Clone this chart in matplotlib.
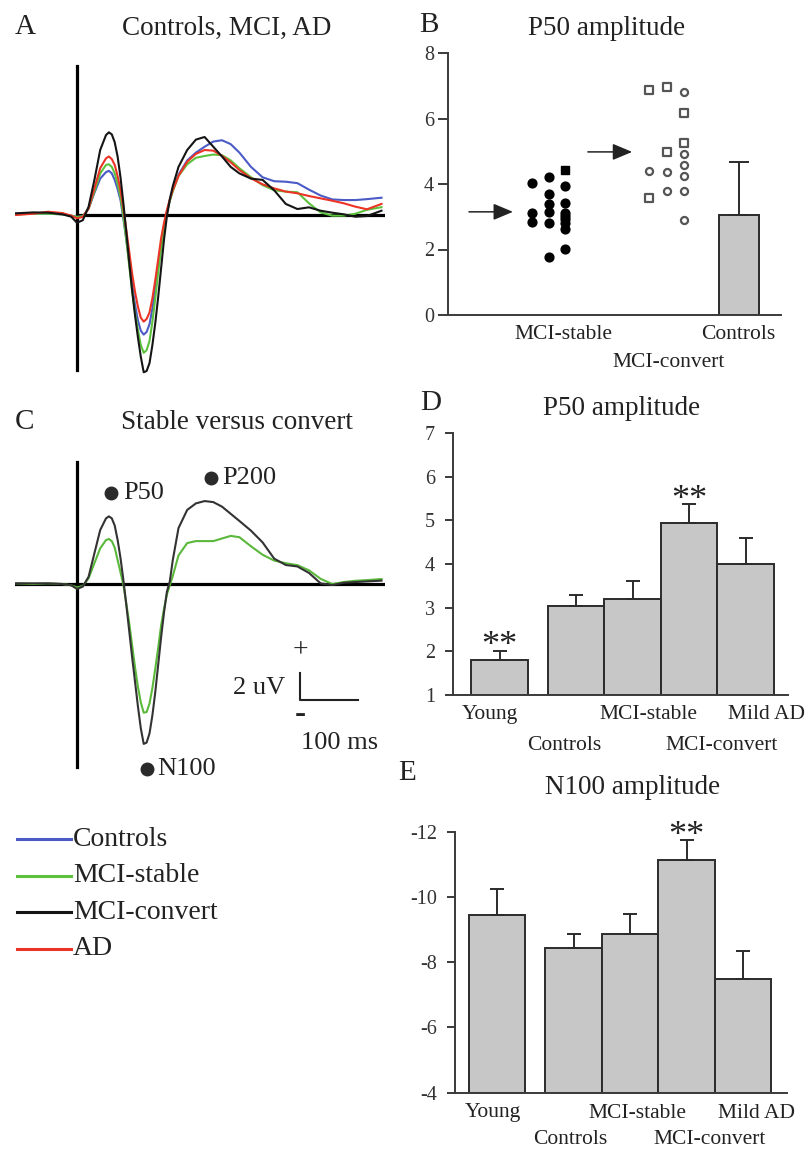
#!/usr/bin/env python3
"""Auditory evoked potentials: grand averages and P50 / N100 amplitudes by group."""

import matplotlib.pyplot as plt

W, H = 809, 1151

plt.rcParams["font.family"] = ["Liberation Serif", "DejaVu Serif"]
plt.rcParams["axes.unicode_minus"] = False

# ---- waveforms (time in ms, amplitude in uV) ----
TIME_MS = [-105, -75, -50, -25, -10, 0, 10, 20, 30, 40, 50, 55, 60, 65, 70, 75,
           80, 85, 90, 95, 100, 105, 110, 115, 120, 125, 130, 135, 140, 145, 150,
           155, 160, 165, 175, 190, 205, 220, 235, 250, 265, 280, 300, 320, 340,
           360, 380, 400, 420, 440, 460, 480, 500, 525]

A_CONTROLS = [0.1, 0.1, 0.1, 0.05, -0.05, -0.15, -0.1, 0.5, 1.7, 2.8, 3.3, 3.4, 3.2,
              2.7, 2.0, 1.15, -0.3, -1.9, -3.6, -5.3, -6.9, -8.1, -8.9, -9.2, -9.0,
              -8.4, -7.2, -5.7, -3.9, -2.3, -0.9, 0.2, 1.1, 1.9, 3.1, 4.2, 4.8, 5.25,
              5.65, 5.75, 5.45, 4.8, 3.7, 2.9, 2.6, 2.56, 2.45, 1.95, 1.5, 1.2, 1.15,
              1.15, 1.22, 1.33]
A_MCI_STABLE = [0.05, 0.1, 0.1, 0.05, -0.05, -0.15, -0.1, 0.5, 1.8, 3.2, 3.85, 3.9,
                3.7, 3.2, 2.4, 1.4, -0.1, -1.9, -3.9, -5.8, -7.5, -8.85, -10.0, -10.6,
                -10.4, -9.7, -8.2, -6.4, -4.4, -2.6, -1.0, 0.2, 1.1, 1.8, 3.0, 3.9,
                4.4, 4.54, 4.65, 4.6, 4.2, 3.6, 2.9, 2.3, 1.9, 1.8, 1.75, 0.9, 0.2,
                -0.05, -0.05, 0.1, 0.4, 0.6]
A_MCI_CONVERT = [0.13, 0.2, 0.18, 0.05, -0.13, -0.6, -0.4, 0.64, 2.7, 5.0, 6.15, 6.36,
                 6.2, 5.6, 4.5, 2.9, 0.9, -1.3, -3.6, -5.8, -7.7, -9.4, -10.9, -12.1,
                 -12.0, -11.4, -10.0, -8.3, -6.3, -4.1, -1.9, -0.1, 1.2, 2.2, 3.7,
                 5.0, 5.8, 6.0, 5.25, 4.5, 3.7, 3.2, 2.8, 2.7, 1.9, 0.85, 0.46, 0.59,
                 0.33, 0.18, 0.05, -0.13, -0.08, 0.33]
A_AD = [0.0, 0.1, 0.25, 0.15, -0.05, -0.25, -0.15, 0.5, 2.05, 3.6, 4.36, 4.5, 4.3,
        3.85, 3.0, 1.9, 0.5, -1.15, -2.8, -4.5, -5.9, -7.05, -7.9, -8.2, -8.0, -7.5,
        -6.4, -5.0, -3.4, -1.8, -0.6, 0.4, 1.2, 1.9, 3.0, 4.1, 4.7, 5.0, 4.95, 4.55,
        4.05, 3.46, 2.82, 2.36, 2.05, 1.8, 1.67, 1.46, 1.28, 1.1, 0.9, 0.64, 0.44,
        0.85]

C_MCI_STABLE = [0.05, 0.0, 0.05, 0.0, -0.1, -0.26, -0.15, 0.44, 1.6, 2.74, 3.38, 3.46,
                3.3, 2.8, 1.85, 0.9, -0.08, -1.5, -3.0, -4.7, -6.4, -7.9, -9.1, -9.9,
                -9.85, -9.2, -8.0, -6.5, -4.9, -3.2, -1.9, -0.8, -0.1, 0.6, 2.2, 3.15,
                3.3, 3.3, 3.3, 3.5, 3.7, 3.6, 2.9, 2.25, 1.8, 1.6, 1.45, 1.05, 0.4,
                0.0, 0.15, 0.25, 0.3, 0.38]
C_MCI_CONVERT = [0.05, 0.05, 0.05, 0.0, -0.1, -0.38, -0.2, 0.56, 2.36, 4.15, 5.05, 5.2,
                 5.05, 4.5, 3.4, 2.0, 0.3, -1.6, -3.6, -5.6, -7.5, -9.4, -11.1, -12.3,
                 -12.2, -11.5, -10.1, -8.3, -6.2, -4.1, -2.2, -0.6, 0.2, 1.8, 4.3, 5.7,
                 6.2, 6.38, 6.3, 5.95, 5.4, 4.85, 4.1, 3.2, 1.95, 1.46, 1.35, 0.85,
                 0.05, -0.08, 0.1, 0.15, 0.2, 0.26]

LEGEND_GROUPS = ["Controls", "MCI-stable", "MCI-convert", "AD"]
LEGEND_COLORS = ["#4b5bc6", "#5cc23e", "#151515", "#ec3426"]

# ---- panel B: individual P50 amplitudes (column index within the group) ----
STABLE_CIRCLE_COL = [0, 0, 0, 1, 1, 1, 1, 1, 1, 2, 2, 2, 2, 2, 2, 2, 2]
STABLE_CIRCLE_P50 = [4.04, 3.12, 2.85, 4.2, 3.69, 3.39, 3.16, 2.82, 1.78,
                     3.94, 3.41, 3.1, 3.02, 2.92, 2.82, 2.63, 2.02]
STABLE_SQUARE_COL = [2]
STABLE_SQUARE_P50 = [4.43]
CONVERT_CIRCLE_COL = [0, 1, 1, 2, 2, 2, 2, 2, 2]
CONVERT_CIRCLE_P50 = [4.41, 4.38, 3.8, 6.8, 4.92, 4.59, 4.25, 3.8, 2.9]
CONVERT_SQUARE_COL = [0, 0, 1, 1, 2, 2]
CONVERT_SQUARE_P50 = [6.88, 3.56, 6.95, 4.99, 6.17, 5.26]
STABLE_MEAN = 3.15
CONVERT_MEAN = 4.98
CONTROLS_P50 = 3.05
CONTROLS_P50_SD = 1.62

# ---- panels D and E: group means with error ----
BAR_GROUPS = ["Young", "Controls", "MCI-stable", "MCI-convert", "Mild AD"]
P50_MEAN = [1.8, 3.04, 3.2, 4.93, 4.0]
P50_ERR = [0.21, 0.26, 0.42, 0.44, 0.6]
P50_SIG = [True, False, False, True, False]
N100_MEAN = [-9.44, -8.44, -8.86, -11.12, -7.47]
N100_ERR = [0.8, 0.41, 0.61, 0.62, 0.88]
N100_SIG = [False, False, False, True, False]

GREY = "#c6c7c6"
EDGE = "#2b2b2b"
TITLE_SIZE = 19.5
LETTER_SIZE = 21
TICK_SIZE = 14.5
LABEL_SIZE = 15.5

# waveform scale: pixels per ms and per uV
MS_PX = 0.58
UV_PX = 13.0


def add_axes_px(fig, left, top, right, bottom):
    return fig.add_axes([left / W, 1 - bottom / H, (right - left) / W, (bottom - top) / H])


def wave_axes(fig, top, bottom, zero_y):
    ax = add_axes_px(fig, 15, top, 385, bottom)
    ax.set_xlim((15 - 77) / MS_PX, (385 - 77) / MS_PX)
    ax.set_ylim((zero_y - bottom) / UV_PX, (zero_y - top) / UV_PX)
    ax.axis("off")
    return ax


def style_bar_axes(ax, length=6, pad=7):
    for side in ("top", "right"):
        ax.spines[side].set_visible(False)
    for side in ("left", "bottom"):
        ax.spines[side].set_color("#3a3a3a")
        ax.spines[side].set_linewidth(1.4)
    ax.tick_params(axis="y", direction="out", length=length, width=1.4, pad=pad,
                   labelsize=TICK_SIZE, color="#3a3a3a", labelcolor="#333333")
    ax.tick_params(axis="x", length=0, labelbottom=False)
    ax.patch.set_alpha(0)


fig = plt.figure(figsize=(W / 100, H / 100), dpi=100)
overlay = fig.add_axes([0, 0, 1, 1], zorder=10)
overlay.set_xlim(0, W)
overlay.set_ylim(H, 0)
overlay.axis("off")


def label(x, y, s, size=LABEL_SIZE, ha="center", **kw):
    overlay.text(x, y, s, fontsize=size, ha=ha, va="center", color="#222222", **kw)


def stars(ax, x, y):
    # the asterisk glyph sits high in its box, so pull the box down onto the cap
    ax.annotate("**", (x, y), xytext=(0, -9), textcoords="offset points",
                ha="center", va="bottom", fontsize=26, color="#222222")


# ---------------- panel A ----------------
ax_a = wave_axes(fig, 60, 375, 215)
ax_a.plot([0, 0], [(215 - 66) / UV_PX, (215 - 370) / UV_PX], color="black", lw=2.3)
ax_a.plot([0, 527], [0, 0], color="black", lw=2.3)
for values, color in zip([A_CONTROLS, A_MCI_STABLE, A_AD, A_MCI_CONVERT],
                         [LEGEND_COLORS[0], LEGEND_COLORS[1], LEGEND_COLORS[3], LEGEND_COLORS[2]]):
    ax_a.plot(TIME_MS, values, color=color, lw=1.5)
label(15, 27, "A", size=LETTER_SIZE, ha="left")
label(227, 28, "Controls, MCI, AD", size=TITLE_SIZE)

# ---------------- panel C ----------------
ax_c = wave_axes(fig, 455, 780, 584)
ax_c.plot([0, 0], [(584 - 462) / UV_PX, (584 - 767) / UV_PX], color="black", lw=2.3)
ax_c.plot([-107, 527], [0, 0], color="black", lw=2.3)
ax_c.plot(TIME_MS, C_MCI_STABLE, color="#5ab83a", lw=1.5)
ax_c.plot(TIME_MS, C_MCI_CONVERT, color="#333333", lw=1.5)
ax_c.plot([384, 384, 484], [-6.85, -8.9, -8.9], color="#222222", lw=1.5)
for t, v in [(59, 7.0), (231, 8.15), (121, -14.2)]:
    ax_c.plot(t, v, "o", color="#2a2a2a", ms=9)
label(123, 493, "P50", size=19, ha="left")
label(222, 478, "P200", size=19, ha="left")
label(157, 769, "N100", size=19, ha="left")
label(300, 651, "+", size=20)
label(300, 714, "-", size=24, fontweight="bold")
label(285, 688, "2 uV", size=19, ha="right")
label(340, 743, "100 ms", size=19)
label(15, 422, "C", size=LETTER_SIZE, ha="left")
label(237, 422, "Stable versus convert", size=TITLE_SIZE)

# legend
for i, (name, color) in enumerate(zip(LEGEND_GROUPS, LEGEND_COLORS)):
    y = 839 + i * 36.5
    overlay.plot([17, 71], [y, y], color=color, lw=2.2)
    label(73, y, name, size=20, ha="left")

# ---------------- panel B ----------------
ax_b = add_axes_px(fig, 448, 53, 781, 315)
ax_b.set_xlim(0, 10)
ax_b.set_ylim(0, 8)
style_bar_axes(ax_b, length=7, pad=3)
ax_b.set_yticks([0, 2, 4, 6, 8])
stable_x = [2.52, 3.03, 3.51]
convert_x = [6.04, 6.58, 7.09]
ax_b.scatter([stable_x[c] for c in STABLE_CIRCLE_COL], STABLE_CIRCLE_P50,
             s=40, color="black", zorder=3)
ax_b.scatter([stable_x[c] for c in STABLE_SQUARE_COL], STABLE_SQUARE_P50,
             s=36, marker="s", color="black", zorder=3)
ax_b.scatter([convert_x[c] for c in CONVERT_CIRCLE_COL], CONVERT_CIRCLE_P50,
             s=26, facecolor="white", edgecolor="#555555", linewidth=1.6, zorder=3)
ax_b.scatter([convert_x[c] for c in CONVERT_SQUARE_COL], CONVERT_SQUARE_P50,
             s=28, marker="s", facecolor="white", edgecolor="#555555", linewidth=1.6, zorder=3)
arrow = dict(arrowstyle="-|>,head_length=1.0,head_width=0.42", color="#222222",
             lw=1.1, mutation_scale=12, shrinkA=0, shrinkB=0)
ax_b.annotate("", xy=(1.95, STABLE_MEAN), xytext=(0.63, STABLE_MEAN), arrowprops=arrow)
ax_b.annotate("", xy=(5.53, CONVERT_MEAN), xytext=(4.2, CONVERT_MEAN), arrowprops=arrow)
ax_b.bar(8.74, CONTROLS_P50, width=1.2, color=GREY, edgecolor=EDGE, linewidth=1.4)
ax_b.errorbar(8.74, CONTROLS_P50, yerr=[[0], [CONTROLS_P50_SD]], color=EDGE,
              elinewidth=1.4, capsize=7, capthick=1.4)
label(429, 25, "B", size=LETTER_SIZE)
label(607, 28, "P50 amplitude", size=TITLE_SIZE)
label(563, 334, "MCI-stable")
label(669, 362, "MCI-convert")
label(738, 334, "Controls")

# ---------------- panels D and E ----------------
bar_x = [0, 1.355, 2.355, 3.355, 4.355]

ax_d = add_axes_px(fig, 453, 433, 788, 695)
ax_d.set_xlim((453 - 499.5) / 56.5, (788 - 499.5) / 56.5)
ax_d.set_ylim(1, 7)
style_bar_axes(ax_d)
ax_d.set_yticks(range(1, 8))
ax_d.bar(bar_x, [m - 1 for m in P50_MEAN], bottom=1, width=1.0, color=GREY,
         edgecolor=EDGE, linewidth=1.4)
ax_d.errorbar(bar_x, P50_MEAN, yerr=[[0] * 5, P50_ERR], fmt="none", ecolor=EDGE,
              elinewidth=1.4, capsize=5, capthick=1.4)
for x, m, e, sig in zip(bar_x, P50_MEAN, P50_ERR, P50_SIG):
    if sig:
        stars(ax_d, x, m + e)
label(431, 403, "D", size=LETTER_SIZE)
label(622, 408, "P50 amplitude", size=TITLE_SIZE)

ax_e = add_axes_px(fig, 455, 831.7, 787, 1092.7)
ax_e.set_xlim((455 - 497) / 56.5, (787 - 497) / 56.5)
ax_e.set_ylim(-4, -12)
style_bar_axes(ax_e)
ax_e.set_yticks([-12, -10, -8, -6, -4])
ax_e.bar(bar_x, [m + 4 for m in N100_MEAN], bottom=-4, width=1.0, color=GREY,
         edgecolor=EDGE, linewidth=1.4)
ax_e.errorbar(bar_x, N100_MEAN, yerr=[N100_ERR, [0] * 5], fmt="none", ecolor=EDGE,
              elinewidth=1.4, capsize=5, capthick=1.4)
for x, m, e, sig in zip(bar_x, N100_MEAN, N100_ERR, N100_SIG):
    if sig:
        stars(ax_e, x, m - e)
label(407, 773, "E", size=LETTER_SIZE)
label(633, 787, "N100 amplitude", size=TITLE_SIZE)

d_label_pos = [(490, 714), (564, 745), (648, 714), (722, 745), (767, 714)]
e_label_pos = [(493, 1113), (570, 1140), (637, 1113), (710, 1140), (757, 1113)]
for name, (x, y) in zip(BAR_GROUPS, d_label_pos):
    label(x, y, name)
for name, (x, y) in zip(BAR_GROUPS, e_label_pos):
    label(x, y, name)

fig.savefig("out.png", dpi=100, facecolor="white")
